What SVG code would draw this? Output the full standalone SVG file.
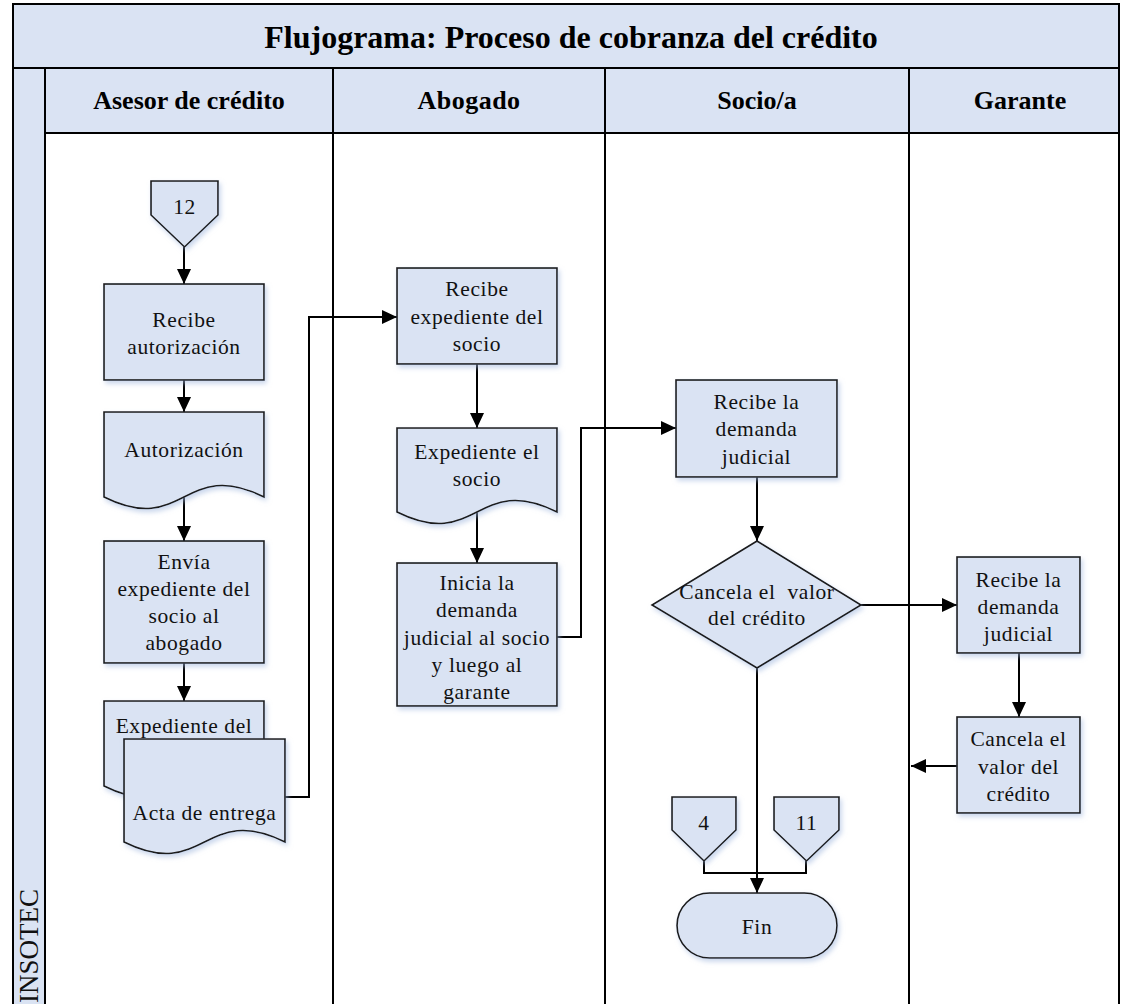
<svg xmlns="http://www.w3.org/2000/svg" width="1129" height="1004" viewBox="0 0 1129 1004">
  <defs>
    <style>
      .band { fill: #DAE3F3; stroke: none; }
      .frame { fill: none; stroke: #000; stroke-width: 2; }
      .node { fill: #DAE3F3; stroke: #1a1a1a; stroke-width: 1.6; filter: url(#glow); }
      .t { font-family: "Liberation Serif", "Times New Roman", serif; font-size: 21.5px; letter-spacing: 0.6px; fill: #111; text-anchor: middle; }
      .hd { font-family: "Liberation Serif", "Times New Roman", serif; font-size: 26px; font-weight: bold; fill: #000; text-anchor: middle; }
      .ttl { font-family: "Liberation Serif", "Times New Roman", serif; font-size: 32px; font-weight: bold; fill: #000; text-anchor: middle; }
      .side { font-family: "Liberation Serif", "Times New Roman", serif; font-size: 27px; fill: #111; }
      .c { fill: none; stroke: #000; stroke-width: 2; }
      .ca { fill: none; stroke: #000; stroke-width: 2; marker-end: url(#arrow); }
    </style>
    <filter id="glow" x="-10%" y="-10%" width="125%" height="130%">
      <feDropShadow dx="2" dy="3" stdDeviation="2.5" flood-color="#9FB6DD" flood-opacity="0.55"/>
    </filter>
    <marker id="arrow" viewBox="0 0 15 14" refX="15" refY="7" markerWidth="15" markerHeight="14" markerUnits="userSpaceOnUse" orient="auto">
      <path d="M0,0 L15,7 L0,14 Z" fill="#000"/>
    </marker>
  </defs>

  <rect width="1129" height="1004" fill="#fff"/>

  <!-- Pool: title, lane headers and side label -->
  <g id="pool">
    <rect class="band" x="13" y="4" width="1106" height="64"/>
    <rect class="band" x="45" y="68" width="1074" height="65"/>
    <rect class="band" x="13" y="68" width="32" height="936"/>
    <path class="frame" d="M13,1004 V4 H1119 V1004 M13,68 H1119 M45,133 H1119 M45,68 V1004 M333,68 V1004 M605,68 V1004 M909,68 V1004"/>
    <text class="ttl" x="571" y="48">Flujograma: Proceso de cobranza del crédito</text>
    <text class="hd" x="189" y="109">Asesor de crédito</text>
    <text class="hd" x="469" y="109" letter-spacing="0.5">Abogado</text>
    <text class="hd" x="757" y="109">Socio/a</text>
    <text class="hd" x="1020" y="109">Garante</text>
    <text class="side" transform="translate(38,1003) rotate(-90)">INSOTEC</text>
  </g>

  <!-- Connectors -->
  <g id="connectors">
    <path class="ca" d="M184,247 V284"/>
    <path class="ca" d="M184,380 V412"/>
    <path class="ca" d="M184,497 V541"/>
    <path class="ca" d="M184,663 V701"/>
    <path class="ca" d="M285,797 H309 V317 H397"/>
    <path class="ca" d="M477,364 V428"/>
    <path class="ca" d="M477,512 V563"/>
    <path class="ca" d="M557,637 H581 V428 H676"/>
    <path class="ca" d="M757,477 V541"/>
    <path class="ca" d="M861,605 H957"/>
    <path class="ca" d="M1019,653 V717"/>
    <path class="ca" d="M957,766 H911"/>
    <path class="ca" d="M757,668 V893"/>
    <path class="c" d="M704,861 V873 H806 V861"/>
  </g>

  <!-- Asesor de crédito -->
  <g id="conector-12">
    <polygon class="node" points="151,181 218,181 218,215 184.5,247 151,215"/>
    <text class="t" x="184.5" y="214">12</text>
  </g>
  <g id="recibe-autorizacion">
    <rect class="node" x="104" y="284" width="160" height="96"/>
    <text class="t" x="184" y="327">Recibe</text>
    <text class="t" x="184" y="354">autorización</text>
  </g>
  <g id="doc-autorizacion">
    <path class="node" d="M104,412 H264 V497 C184,457 184,537 104,497 Z"/>
    <text class="t" x="184" y="457">Autorización</text>
  </g>
  <g id="envia-expediente">
    <rect class="node" x="104" y="541" width="160" height="122"/>
    <text class="t" x="184" y="569">Envía</text>
    <text class="t" x="184" y="596">expediente del</text>
    <text class="t" x="184" y="623">socio al</text>
    <text class="t" x="184" y="650">abogado</text>
  </g>
  <g id="doc-expediente-del">
    <path class="node" d="M104,701 H264 V786 C184,746 184,826 104,786 Z"/>
    <text class="t" x="184" y="733">Expediente del</text>
  </g>
  <g id="doc-acta-entrega">
    <path class="node" d="M124,739 H285 V842 C204.5,802 204.5,882 124,842 Z"/>
    <text class="t" x="204.5" y="820">Acta de entrega</text>
  </g>

  <!-- Abogado -->
  <g id="recibe-expediente">
    <rect class="node" x="397" y="268" width="160" height="96"/>
    <text class="t" x="477" y="296">Recibe</text>
    <text class="t" x="477" y="323.5">expediente del</text>
    <text class="t" x="477" y="351">socio</text>
  </g>
  <g id="doc-expediente-socio">
    <path class="node" d="M397,428 H557 V512 C477,472 477,552 397,512 Z"/>
    <text class="t" x="477" y="459">Expediente el</text>
    <text class="t" x="477" y="486">socio</text>
  </g>
  <g id="inicia-demanda">
    <rect class="node" x="397" y="563" width="160" height="143"/>
    <text class="t" x="477" y="590">Inicia la</text>
    <text class="t" x="477" y="617">demanda</text>
    <text class="t" x="477" y="645">judicial al socio</text>
    <text class="t" x="477" y="672">y luego al</text>
    <text class="t" x="477" y="699">garante</text>
  </g>

  <!-- Socio/a -->
  <g id="socio-recibe-demanda">
    <rect class="node" x="676" y="380" width="161" height="97"/>
    <text class="t" x="756.5" y="409">Recibe la</text>
    <text class="t" x="756.5" y="436">demanda</text>
    <text class="t" x="756.5" y="464">judicial</text>
  </g>
  <g id="decision-cancela">
    <polygon class="node" points="757,541 861,605 757,668 652,605"/>
    <text class="t" x="757" y="599" xml:space="preserve">Cancela el  valor</text>
    <text class="t" x="757" y="625">del crédito</text>
  </g>
  <g id="conector-4">
    <polygon class="node" points="672,797 736,797 736,830 704,861 672,830"/>
    <text class="t" x="704" y="830">4</text>
  </g>
  <g id="conector-11">
    <polygon class="node" points="774,797 839,797 839,830 806.5,861 774,830"/>
    <text class="t" x="806.5" y="830">11</text>
  </g>
  <g id="fin">
    <rect class="node" x="677" y="893" width="160" height="65" rx="32.5" ry="32.5"/>
    <text class="t" x="757" y="934">Fin</text>
  </g>

  <!-- Garante -->
  <g id="garante-recibe-demanda">
    <rect class="node" x="957" y="557" width="123" height="96"/>
    <text class="t" x="1018.5" y="587">Recibe la</text>
    <text class="t" x="1018.5" y="614">demanda</text>
    <text class="t" x="1018.5" y="641">judicial</text>
  </g>
  <g id="garante-cancela">
    <rect class="node" x="957" y="717" width="123" height="96"/>
    <text class="t" x="1018.5" y="746">Cancela el</text>
    <text class="t" x="1018.5" y="774">valor del</text>
    <text class="t" x="1018.5" y="801">crédito</text>
  </g>
</svg>
